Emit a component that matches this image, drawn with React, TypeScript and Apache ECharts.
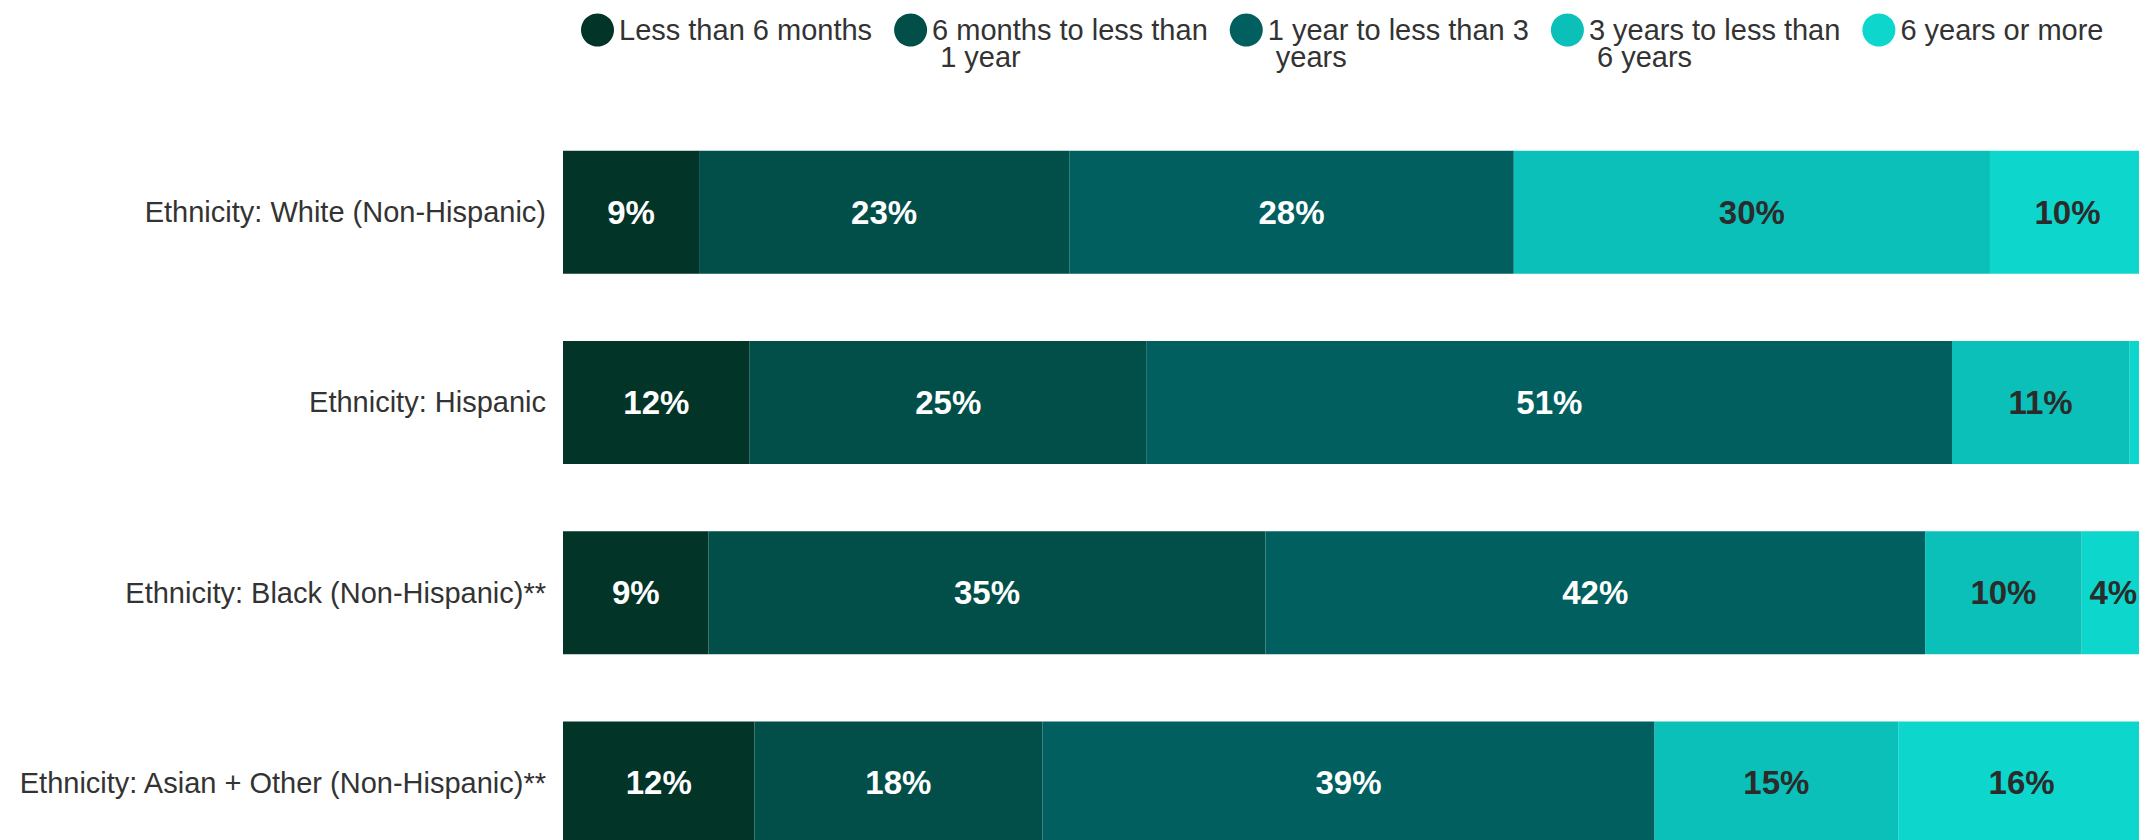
import React, { useEffect, useRef } from "react";
import * as echarts from "echarts";

const categories = [
  "Ethnicity: White (Non-Hispanic)",
  "Ethnicity: Hispanic",
  "Ethnicity: Black (Non-Hispanic)**",
  "Ethnicity: Asian + Other (Non-Hispanic)**",
];

const seriesNames = [
  "Less than 6 months",
  "6 months to less than\n1 year",
  "1 year to less than 3\nyears",
  "3 years to less than\n6 years",
  "6 years or more",
];

const lessThan6Months = [8.6, 11.8, 9.2, 12.1];
const sixMonthsTo1Year = [23.4, 25.1, 35.2, 18.2];
const oneTo3Years = [28.1, 50.9, 41.7, 38.7];
const threeTo6Years = [30.1, 11.2, 9.9, 15.4];
const sixYearsOrMore = [9.8, 1.0, 4.0, 15.6];

const seriesValues = [lessThan6Months, sixMonthsTo1Year, oneTo3Years, threeTo6Years, sixYearsOrMore];

const colors = ["#023428", "#024f4a", "#01605f", "#0bc0b8", "#0dd7cd"];
const labelColors = ["#ffffff", "#ffffff", "#ffffff", "#2b2b2b", "#2b2b2b"];

const FONT = "'Liberation Sans', Arial, Helvetica, sans-serif";

export default function App() {
  const ref = useRef<HTMLDivElement>(null);

  useEffect(() => {
    document.body.style.margin = "0";
    document.body.style.overflow = "hidden";
    if (!ref.current) return;
    const chart = echarts.init(ref.current, null, { renderer: "svg" });
    const LH = 27;
    chart.setOption({
      animation: false,
      color: colors,
      textStyle: { fontFamily: FONT },
      legend: {
        left: 581,
        top: -11.5,
        padding: 0,
        icon: "circle",
        itemWidth: 33,
        itemHeight: 33,
        itemGap: 22,
        selectedMode: false,
        formatter: (name: string) =>
          name.indexOf("\n") >= 0 ? " \n" + name.replace("\n", "\n ") : name,
        textStyle: { fontSize: 29, color: "#333333", fontFamily: FONT, lineHeight: LH },
        data: seriesNames,
      },
      grid: {
        left: 563,
        top: 117,
        width: 1582,
        height: 761,
        containLabel: false,
        outerBoundsMode: "none",
      },
      xAxis: { type: "value", min: 0, max: 100, show: false },
      yAxis: {
        type: "category",
        inverse: true,
        data: categories,
        axisLine: { show: false },
        axisTick: { show: false },
        splitLine: { show: false },
        axisLabel: { fontSize: 29, color: "#333333", margin: 17, fontFamily: FONT },
      },
      series: seriesNames.map((name, i) => ({
        name,
        type: "bar",
        stack: "total",
        barWidth: 123,
        data: seriesValues[i],
        itemStyle: { color: colors[i] },
        label: {
          show: true,
          position: "inside",
          color: labelColors[i],
          fontSize: 33,
          fontWeight: "bold",
          fontFamily: FONT,
          formatter: (p: any) => (p.value >= 2 ? Math.round(p.value) + "%" : ""),
        },
      })),
    });
    return () => chart.dispose();
  }, []);

  return <div ref={ref} style={{ width: 2139, height: 840 }} />;
}
